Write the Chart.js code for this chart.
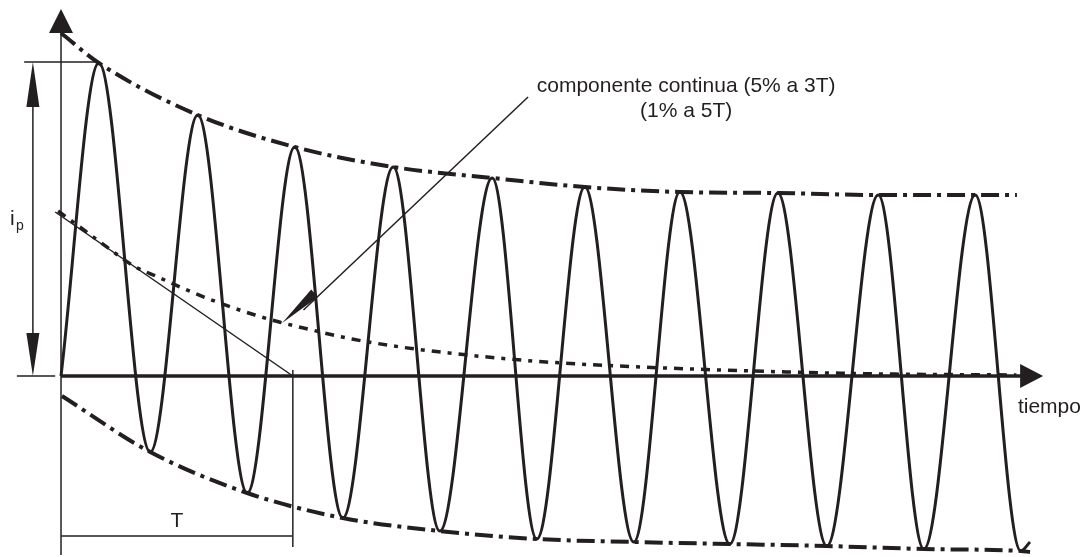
<!DOCTYPE html>
<html>
<head>
<meta charset="utf-8">
<script src="https://cdn.jsdelivr.net/npm/chart.js@4/dist/chart.umd.min.js"></script>
<style>
  html, body { margin: 0; padding: 0; background: #fff; }
  #chart { display: block; }
</style>
</head>
<body>
<canvas id="chart" width="1086" height="557"></canvas>
<script>
// time in ms (one cycle = 20 ms), current in arbitrary units
const waveTime = [0, 7.8, 18.4, 28.2, 38.4, 48.2, 58.1, 68.5, 78.1, 88.9, 98.1, 108.0, 118.1, 127.6, 137.9, 147.8, 157.9, 168.5, 177.9, 188.5, 197.9, 199.8];
const waveCurrent = [0, 3.13, -0.76, 2.61, -1.17, 2.29, -1.42, 2.09, -1.55, 1.98, -1.63, 1.89, -1.66, 1.84, -1.68, 1.83, -1.70, 1.81, -1.73, 1.81, -1.75, -1.66];

const upperTime = [0, 7.8, 28.2, 48.2, 68.5, 88.9, 108.0, 127.6, 147.8, 168.5, 188.5, 197.1];
const upperCurrent = [3.43, 3.13, 2.61, 2.29, 2.09, 1.98, 1.89, 1.84, 1.83, 1.81, 1.81, 1.81];

const lowerTime = [0.2, 18.4, 38.4, 58.1, 78.1, 98.1, 118.1, 137.9, 157.9, 177.9, 197.9, 199.8];
const lowerCurrent = [-0.20, -0.76, -1.17, -1.42, -1.55, -1.63, -1.66, -1.68, -1.70, -1.73, -1.75, -1.76];

const dcTime = [-0.6, 5, 10, 15, 20, 25, 30, 35, 40, 45, 50, 60, 70, 80, 90, 100, 115, 130, 150, 170, 197];
const dcCurrent = [1.65, 1.45, 1.27, 1.10, 0.99, 0.88, 0.78, 0.69, 0.61, 0.54, 0.48, 0.37, 0.29, 0.23, 0.18, 0.14, 0.10, 0.07, 0.04, 0.02, 0.01];

const tangentTime = [-1.2, 47.8];
const tangentCurrent = [1.64, 0];

const ink = '#231f20';
const fontFamily = "'Liberation Sans', Arial, sans-serif";

function points(xs, ys) {
  return xs.map((x, i) => ({ x: x, y: ys[i] }));
}

function drawLine(ctx, x1, y1, x2, y2, w) {
  ctx.beginPath();
  ctx.lineWidth = w;
  ctx.moveTo(x1, y1);
  ctx.lineTo(x2, y2);
  ctx.stroke();
}

function drawHead(ctx, tipX, tipY, fromX, fromY, len, half) {
  const dx = tipX - fromX, dy = tipY - fromY;
  const d = Math.hypot(dx, dy);
  const ux = dx / d, uy = dy / d;
  const bx = tipX - ux * len, by = tipY - uy * len;
  ctx.beginPath();
  ctx.moveTo(tipX, tipY);
  ctx.lineTo(bx - uy * half, by + ux * half);
  ctx.lineTo(bx + uy * half, by - ux * half);
  ctx.closePath();
  ctx.fill();
}

const sketch = {
  id: 'sketch',
  afterDatasetsDraw(chart) {
    const ctx = chart.ctx;
    const px = v => chart.scales.x.getPixelForValue(v);
    const py = v => chart.scales.y.getPixelForValue(v);
    ctx.save();
    ctx.strokeStyle = ink;
    ctx.fillStyle = ink;
    ctx.lineCap = 'butt';

    // time axis
    drawLine(ctx, px(0), py(0), px(198), py(0), 3.5);
    drawHead(ctx, px(202.5), py(0), px(0), py(0), 23, 12);

    // current axis
    drawLine(ctx, px(0), py(-1.79), px(0), py(3.45), 1.5);
    drawHead(ctx, px(0), py(3.67), px(0), py(0), 24, 12);

    // i_p dimension
    drawLine(ctx, px(-7.6), py(3.14), px(7.8), py(3.14), 1.5);
    drawLine(ctx, px(-5.8), py(3.0), px(-5.8), py(0.1), 1.5);
    drawHead(ctx, px(-5.8), py(3.14), px(-5.8), py(0), 45, 6.5);
    drawHead(ctx, px(-5.8), py(0), px(-5.8), py(3.14), 43, 6.5);
    drawLine(ctx, px(-9.1), py(0), px(-1.2), py(0), 1.5);

    // T bracket
    drawLine(ctx, px(47.8), py(0.06), px(47.8), py(-1.71), 1.5);
    drawLine(ctx, px(0), py(-1.60), px(47.8), py(-1.60), 1.5);

    // leader to the dc component
    drawLine(ctx, px(96.3), py(2.79), px(50), py(0.66), 1.5);
    drawHead(ctx, px(45.6), py(0.53), px(96.3), py(2.79), 44, 5);

    // labels
    ctx.font = '21px ' + fontFamily;
    ctx.textBaseline = 'alphabetic';
    ctx.textAlign = 'center';
    ctx.fillText('componente continua (5% a 3T)', px(128.9), py(2.84));
    ctx.fillText('(1% a 5T)', px(128.9), py(2.59));
    ctx.fillText('T', px(23.9), py(-1.51));
    ctx.textAlign = 'left';
    ctx.fillText('tiempo', px(197.3), py(-0.37));
    ctx.fillText('i', px(-10.5), py(1.51));
    ctx.font = '14px ' + fontFamily;
    ctx.fillText('p', px(-9.3), py(1.46));
    ctx.restore();
  }
};

const dashDot = [18, 6, 4, 6];

new Chart(document.getElementById('chart').getContext('2d'), {
  type: 'scatter',
  data: {
    datasets: [
      {
        data: points(upperTime, upperCurrent),
        showLine: true, borderColor: ink, borderWidth: 4,
        borderDash: dashDot, cubicInterpolationMode: 'monotone', pointRadius: 0
      },
      {
        data: points(lowerTime, lowerCurrent),
        showLine: true, borderColor: ink, borderWidth: 4,
        borderDash: dashDot, cubicInterpolationMode: 'monotone', pointRadius: 0
      },
      {
        data: points(dcTime, dcCurrent),
        showLine: true, borderColor: ink, borderWidth: 3.5,
        borderDash: [9, 7, 4, 7], cubicInterpolationMode: 'monotone', pointRadius: 0
      },
      {
        data: points(tangentTime, tangentCurrent),
        showLine: true, borderColor: ink, borderWidth: 1.5, pointRadius: 0
      },
      {
        data: points(waveTime, waveCurrent),
        showLine: true, borderColor: ink, borderWidth: 3,
        cubicInterpolationMode: 'monotone', pointRadius: 0
      }
    ]
  },
  options: {
    responsive: false,
    animation: false,
    events: [],
    layout: { padding: 0, autoPadding: false },
    plugins: { legend: { display: false }, tooltip: { enabled: false } },
    scales: {
      x: { type: 'linear', display: false, min: -12.58, max: 211.34 },
      y: { type: 'linear', display: false, min: -1.81, max: 3.76 }
    }
  },
  plugins: [sketch]
});
</script>
</body>
</html>
